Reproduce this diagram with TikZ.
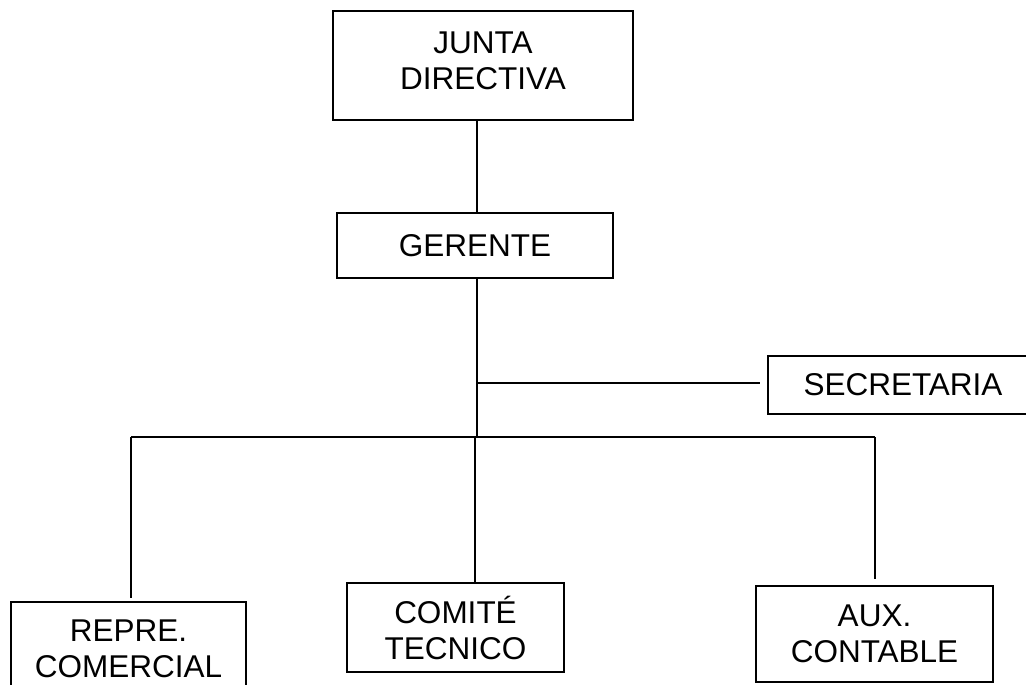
\documentclass[tikz,border=0pt]{standalone}
\usepackage{fontspec}
\setmainfont{Liberation Sans}
\usetikzlibrary{calc}
\begin{document}
\begin{tikzpicture}[x=1pt,y=1pt,
  txt/.style={inner sep=0pt,align=center,font=\fontsize{31.5}{36}\selectfont},
  box/.style={draw,line width=1.6pt,txt},
  con/.style={line width=1.6pt}]
\useasboundingbox (0,0) rectangle (1026,-685);
\clip (0,0) rectangle (1026,-685);
\node[box,minimum width=300pt,minimum height=109pt,
  label={[txt,yshift=5pt]center:JUNTA\\DIRECTIVA}] (junta) at (483,-65.5) {};
\node[box,minimum width=276pt,minimum height=65pt] (gerente) at (475,-245.5) {GERENTE};
\node[box,minimum width=270pt,minimum height=58pt] (secretaria) at (903,-385) {SECRETARIA};
\node[box,minimum width=235pt,minimum height=94pt] (repre) at (128.5,-649) {REPRE.\\COMERCIAL};
\node[box,minimum width=217pt,minimum height=89pt] (comite) at (455.5,-627.5) {COMITÉ\\TECNICO};
\node[box,minimum width=237pt,minimum height=96pt] (aux) at (874.5,-634) {AUX.\\CONTABLE};
\coordinate (busL) at (131,-437);
\coordinate (busM) at (477,-437);
\coordinate (busC) at (475,-437);
\coordinate (busR) at (875,-437);
\coordinate (secL) at (477,-383);
\coordinate (secR) at (760,-383);
\draw[con] (junta.south -| busM) -- (gerente.north -| busM);
\draw[con] (gerente.south -| busM) -- (busM);
\draw[con] (secL) -- (secR);
\draw[con] (busL) -- (busR);
\draw[con] (busL) -- ($(busL |- repre.north)+(0,3)$);
\draw[con] (busC) -- (busC |- comite.north);
\draw[con] (busR) -- ($(busR |- aux.north)+(0,6)$);
\end{tikzpicture}
\end{document}
